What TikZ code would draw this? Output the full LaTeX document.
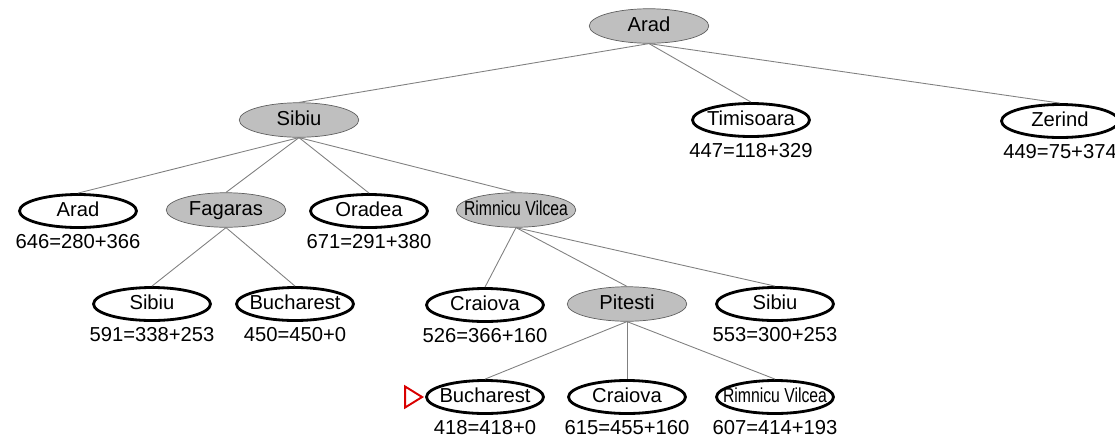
\documentclass[tikz,border=0pt]{standalone}
\usepackage{graphicx}
\usepackage{fontspec}
\setmainfont{Liberation Sans}
\usetikzlibrary{shapes.geometric}

\newcommand{\town}[1]{\makebox[0pt]{#1}}
\newcommand{\rvname}{\scalebox{0.78}[1]{Rimnicu Vilcea}}

\tikzset{
  city/.style={ellipse, inner sep=0pt, text height=8.6pt, text depth=2.4pt,
    font=\fontsize{11.5}{13}\selectfont},
  open/.style={city, draw=black, fill=white, line width=1.6pt,
    minimum width=2.34cm, minimum height=0.66cm},
  done/.style={city, draw=gray!75!black, fill=gray!50, line width=0.4pt,
    minimum width=2.39cm, minimum height=0.69cm},
  fval/.style={inner sep=0pt, font=\fontsize{11.5}{13}\selectfont},
  edge/.style={gray, line width=0.5pt},
}

\begin{document}
\begin{tikzpicture}[x=0.02cm, y=-0.02cm]
  \useasboundingbox (0,0) rectangle (1115,440);
  \node[done] (arad) at (649,26) {\town{Arad}};
  \node[done] (sib) at (299,120) {\town{Sibiu}};
  \node[open] (tim) at (751,120) {\town{Timisoara}};
  \node[open] (zer) at (1060,121) {\town{Zerind}};
  \node[open] (arad3) at (78,211) {\town{Arad}};
  \node[done] (fag) at (226,210) {\town{Fagaras}};
  \node[open] (ora) at (369,211) {\town{Oradea}};
  \node[done] (rv) at (516,210) {\town{\rvname}};
  \node[open] (sib4) at (152,304) {\town{Sibiu}};
  \node[open] (buc4) at (295,304) {\town{Bucharest}};
  \node[open] (cra4) at (485,305) {\town{Craiova}};
  \node[done] (pit) at (627,304) {\town{Pitesti}};
  \node[open] (sib4b) at (775,304) {\town{Sibiu}};
  \node[open] (buc5) at (485,397) {\town{Bucharest}};
  \node[open] (cra5) at (627,397) {\town{Craiova}};
  \node[open] (rv5) at (775,397) {\town{\rvname}};
  \foreach \p/\c in {arad/sib, arad/tim, arad/zer, sib/arad3, sib/fag, sib/ora, sib/rv,
      fag/sib4, fag/buc4, rv/cra4, rv/pit, rv/sib4b, pit/buc5, pit/cra5, pit/rv5}
    \draw[edge] (\p.south) -- (\c.north);
  \foreach \n/\f in {tim/447=118+329, zer/449=75+374, arad3/646=280+366, ora/671=291+380,
      sib4/591=338+253, buc4/450=450+0, cra4/526=366+160, sib4b/553=300+253,
      buc5/418=418+0, cra5/615=455+160, rv5/607=414+193}
    \node[fval] (\n-f) at ([yshift=-17.6pt]\n.center) {\f};
  \draw[red!85!black, line width=1.1pt] ([xshift=-0.06cm]buc5.west) -- ++(-17,-10.5) -- ++(0,21) -- cycle;
\end{tikzpicture}
\end{document}
